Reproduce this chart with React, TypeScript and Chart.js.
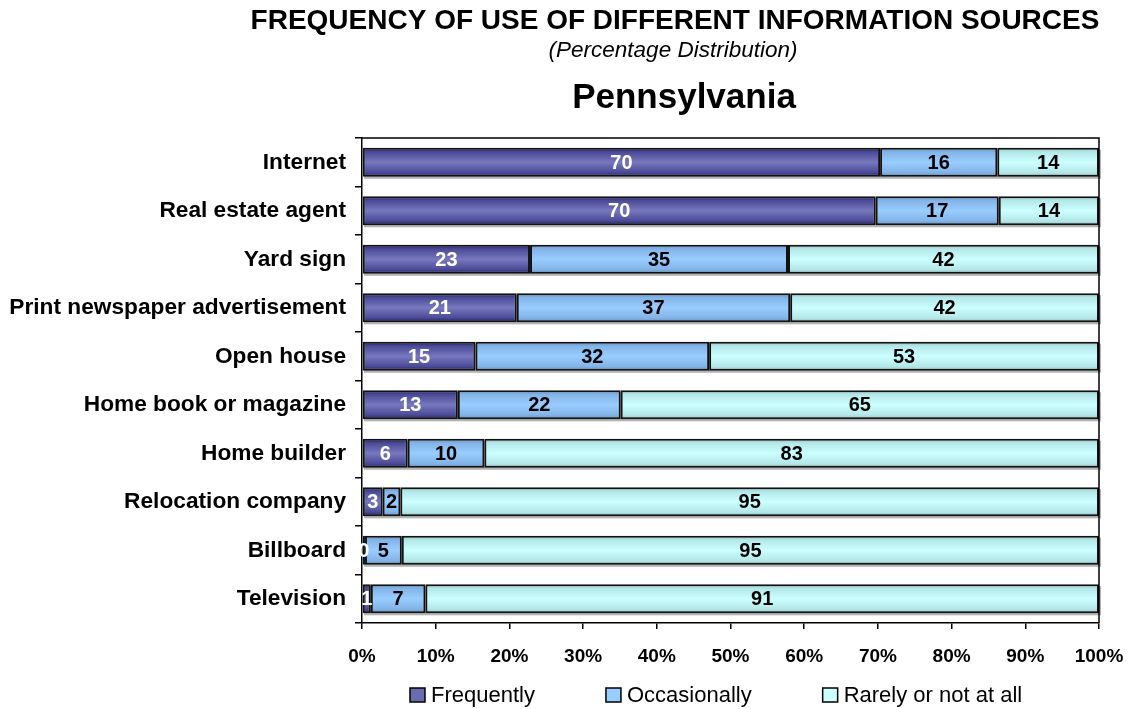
import React, { useEffect, useRef } from "react";
import { Chart, registerables } from "chart.js";

Chart.register(...registerables);

const categories = [
  "Internet",
  "Real estate agent",
  "Yard sign",
  "Print newspaper advertisement",
  "Open house",
  "Home book or magazine",
  "Home builder",
  "Relocation company",
  "Billboard",
  "Television",
];
const frequently = [70.3, 69.7, 22.8, 21.0, 15.4, 13.0, 6.2, 2.8, 0.4, 1.2];
const occasionally = [15.9, 16.7, 35.0, 37.1, 31.7, 22.1, 10.4, 2.4, 5.0, 7.4];
const rarely = [13.8, 13.6, 42.2, 41.9, 52.9, 64.9, 83.4, 94.8, 94.6, 91.4];
const seriesNames = ["Frequently", "Occasionally", "Rarely or not at all"];
const xTickValues = [0, 10, 20, 30, 40, 50, 60, 70, 80, 90, 100];

const FONT = "'Liberation Sans', Arial, Helvetica, sans-serif";
const BAR_PCT = 0.6;

const gradStops = [
  ["#1c1c62", "#4a4a98", "#7878be", "#4a4a98", "#1c1c62"],
  ["#5f8fc2", "#82b4e8", "#99ccff", "#82b4e8", "#5f8fc2"],
  ["#8fbfbf", "#b4e8e8", "#ccffff", "#b4e8e8", "#8fbfbf"],
];
const legendColors = ["#6b6bb2", "#99ccff", "#ccffff"];
const labelColors = ["#ffffff", "#000000", "#000000"];

function gradient(idx: number) {
  const stops = gradStops[idx];
  return (c: any) => {
    const chart = c.chart;
    const area = chart.chartArea;
    const ys = chart.scales && chart.scales.y;
    if (!area || !ys || c.dataIndex === undefined) return stops[2];
    const cy = ys.getPixelForValue(c.dataIndex);
    const h = ((area.bottom - area.top) / categories.length) * BAR_PCT;
    const g = chart.ctx.createLinearGradient(0, cy - h / 2, 0, cy + h / 2);
    g.addColorStop(0, stops[0]);
    g.addColorStop(0.15, stops[1]);
    g.addColorStop(0.5, stops[2]);
    g.addColorStop(0.85, stops[3]);
    g.addColorStop(1, stops[4]);
    return g;
  };
}

const decorPlugin = {
  id: "decor",
  beforeDatasetsDraw(chart: any) {
    const { ctx, chartArea } = chart;
    const last = chart.getDatasetMeta(chart.data.datasets.length - 1);
    ctx.save();
    ctx.fillStyle = "rgba(0,0,0,0.3)";
    last.data.forEach((bar: any) => {
      const top = bar.y - bar.height / 2;
      ctx.fillRect(chartArea.left + 2, top + 2, bar.x - chartArea.left, bar.height);
    });
    ctx.restore();
  },
  afterDatasetsDraw(chart: any) {
    const { ctx, chartArea } = chart;
    ctx.save();
    ctx.font = `bold 20px ${FONT}`;
    ctx.textAlign = "center";
    ctx.textBaseline = "middle";
    chart.data.datasets.forEach((ds: any, di: number) => {
      const meta = chart.getDatasetMeta(di);
      ctx.fillStyle = labelColors[di];
      meta.data.forEach((bar: any, i: number) => {
        const x = (bar.x + bar.base) / 2;
        ctx.fillText(String(Math.round(ds.data[i])), x, bar.y + 1);
      });
    });
    // plot frame (top and right)
    ctx.strokeStyle = "#000";
    ctx.lineWidth = 1.5;
    ctx.beginPath();
    ctx.moveTo(chartArea.left, chartArea.top);
    ctx.lineTo(chartArea.right, chartArea.top);
    ctx.lineTo(chartArea.right, chartArea.bottom);
    ctx.stroke();
    ctx.restore();
  },
  afterDraw(chart: any) {
    const { ctx } = chart;
    ctx.save();
    ctx.fillStyle = "#000";
    ctx.textAlign = "center";
    ctx.textBaseline = "middle";
    ctx.font = `bold 28px ${FONT}`;
    ctx.fillText("FREQUENCY OF USE OF DIFFERENT INFORMATION SOURCES", 675, 21);
    ctx.font = `italic 22.5px ${FONT}`;
    ctx.fillText("(Percentage Distribution)", 673, 51);
    ctx.font = `bold 35px ${FONT}`;
    ctx.fillText("Pennsylvania", 684, 98);

    // legend
    ctx.font = `22px ${FONT}`;
    ctx.textAlign = "left";
    let x = 410;
    const y = 695;
    chart.data.datasets.forEach((ds: any, i: number) => {
      ctx.fillStyle = legendColors[i];
      ctx.fillRect(x, y - 7, 15, 14);
      ctx.strokeStyle = "#000";
      ctx.lineWidth = 1.5;
      ctx.strokeRect(x, y - 7, 15, 14);
      ctx.fillStyle = "#000";
      ctx.fillText(ds.label, x + 21, y + 1);
      x += 21 + ctx.measureText(ds.label).width + 71;
    });
    ctx.restore();
  },
};

export default function App() {
  const ref = useRef<HTMLCanvasElement>(null);
  useEffect(() => {
    if (!ref.current) return;
    const series = [frequently, occasionally, rarely];
    const chart = new Chart(ref.current, {
      type: "bar",
      data: {
        labels: categories,
        datasets: series.map((d, i) => ({
          label: seriesNames[i],
          data: d,
          backgroundColor: gradient(i),
          borderColor: "#111111",
          borderWidth: 2,
          borderSkipped: false,
          barPercentage: BAR_PCT,
          categoryPercentage: 1,
        })),
      },
      options: {
        indexAxis: "y",
        animation: false,
        responsive: true,
        maintainAspectRatio: false,
        layout: { padding: { top: 138, right: 31, bottom: 36, left: 0 } },
        plugins: {
          legend: { display: false },
          tooltip: { enabled: false },
          title: { display: false },
        },
        scales: {
          x: {
            stacked: true,
            min: 0,
            max: 100,
            afterBuildTicks: (scale: any) => {
              scale.ticks = xTickValues.map((v) => ({ value: v }));
            },
            afterFit: (scale: any) => {
              scale.height = 50;
              scale.paddingLeft = 0;
              scale.paddingRight = 0;
            },
            ticks: {
              color: "#000",
              padding: 16,
              font: { family: FONT, size: 19, weight: "bold" },
              callback: (v: any) => v + "%",
              maxRotation: 0,
              autoSkip: false,
            },
            grid: {
              drawOnChartArea: false,
              drawTicks: true,
              tickLength: 6,
              color: "#000",
              lineWidth: 1.5,
            },
            border: { color: "#000", width: 1.5 },
          },
          y: {
            stacked: true,
            afterFit: (scale: any) => {
              scale.width = 362;
              scale.paddingTop = 0;
              scale.paddingBottom = 0;
            },
            ticks: {
              color: "#000",
              padding: 9,
              font: { family: FONT, size: 22.7, weight: "bold" },
              autoSkip: false,
            },
            grid: {
              drawOnChartArea: false,
              drawTicks: true,
              tickLength: 7,
              offset: true,
              color: "#000",
              lineWidth: 1.5,
            },
            border: { color: "#000", width: 1.5 },
          },
        },
      },
      plugins: [decorPlugin],
    });
    return () => chart.destroy();
  }, []);
  return (
    <div style={{ position: "absolute", left: 0, top: 0, width: 1130, height: 709, background: "#fff" }}>
      <canvas ref={ref} />
    </div>
  );
}
